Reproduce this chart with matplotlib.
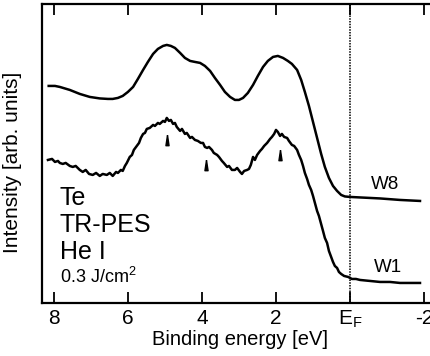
"""
Te TR-PES (He I) spectra, W8 and W1 — binding energy vs intensity.
Output: out.png (431 x 356 px)
"""

import matplotlib
matplotlib.use("Agg")
import matplotlib.pyplot as plt

# ── Fonts ──────────────────────────────────────────────────────────────────────
plt.rcParams["font.family"] = ["Liberation Sans", "DejaVu Sans"]
plt.rcParams["mathtext.fontset"] = "custom"
plt.rcParams["mathtext.rm"] = "Liberation Sans"
plt.rcParams["mathtext.it"] = "Liberation Sans"

# ── Data ──────────────────────────────────────────────────────────────────────
# W8 — smooth spectrum
w8_e = [8.14, 7.97, 7.84, 7.57, 7.30, 7.03, 6.76, 6.54, 6.41, 6.27,
        6.14, 6.00, 5.86, 5.73, 5.59, 5.46, 5.32, 5.19, 5.05, 4.95,
        4.84, 4.73, 4.59, 4.46, 4.32, 4.19, 4.05, 3.92, 3.78, 3.65,
        3.51, 3.38, 3.24, 3.11, 3.00, 2.89, 2.76, 2.62, 2.49, 2.35,
        2.22, 2.08, 1.95, 1.81, 1.68, 1.57, 1.43, 1.32, 1.22, 1.11,
        1.00, 0.89, 0.78, 0.68, 0.57, 0.46, 0.35, 0.24, 0.14, 0.00,
        -0.27, -0.81, -1.35, -1.89]
w8_i = [217, 217, 216, 213, 209, 206, 204.5, 204, 204, 205,
        207, 211, 216, 224, 233, 241, 249, 254, 257, 258,
        257, 255, 250, 245, 242, 241, 240, 237, 232, 225,
        218, 211, 206, 203, 203, 205, 210, 218, 227, 236,
        242, 246, 247, 245, 242, 239, 233, 223, 211, 197,
        181, 165, 149, 136, 125, 117, 112, 108, 106.5, 106,
        105.5, 104.5, 103, 102]

# W1 — noisy spectrum
w1_e = [8.16, 8.05, 7.97, 7.89, 7.84, 7.76, 7.68, 7.57, 7.49, 7.41,
        7.30, 7.22, 7.14, 7.05, 6.95, 6.86, 6.76, 6.68, 6.57, 6.49,
        6.41, 6.32, 6.27, 6.19, 6.14, 6.08, 6.03, 5.95, 5.89, 5.84,
        5.76, 5.70, 5.65, 5.59, 5.54, 5.49, 5.41, 5.32, 5.27, 5.19,
        5.14, 5.05, 5.00, 4.95, 4.89, 4.84, 4.78, 4.73, 4.68, 4.59,
        4.54, 4.46, 4.41, 4.32, 4.27, 4.19, 4.11, 4.03, 3.97, 3.92,
        3.86, 3.81, 3.73, 3.68, 3.59, 3.54, 3.46, 3.41, 3.32, 3.27,
        3.19, 3.11, 3.05, 2.97, 2.92, 2.86, 2.78, 2.73, 2.68, 2.62,
        2.57, 2.51, 2.43, 2.38, 2.32, 2.24, 2.16, 2.11, 2.05, 2.00,
        1.95, 1.89, 1.84, 1.78, 1.70, 1.65, 1.57, 1.51, 1.43, 1.38,
        1.32, 1.27, 1.22, 1.16, 1.11, 1.05, 1.00, 0.95, 0.89, 0.84,
        0.78, 0.73, 0.68, 0.62, 0.57, 0.51, 0.46, 0.41, 0.35, 0.30,
        0.24, 0.16, 0.05, -0.05, -0.16, -0.27, -0.54, -0.81, -1.08, -1.35,
        -1.62, -1.89]
w1_i = [143, 144, 141, 142, 140, 139, 140, 137, 136, 137,
        133, 131, 133, 129, 128, 130, 127, 129, 128, 130,
        127, 131, 130, 133, 132, 137, 140, 146, 148, 153,
        157, 160, 165, 169, 170, 174, 175, 178, 177, 180,
        179, 182, 181, 185, 182, 183, 179, 180, 176, 172,
        174, 169, 170, 165, 166, 163, 162, 160, 160, 156,
        155, 156, 153, 150, 148, 146, 142, 140, 136, 137,
        133, 133, 135, 131, 129, 132, 133, 134, 138, 146,
        143, 148, 152, 154, 157, 160, 164, 166, 169, 173,
        171, 167, 169, 166, 165, 162, 158, 157, 153, 148,
        143, 137, 130, 124, 118, 113, 107, 100, 92, 87,
        79, 72, 65, 60, 52, 46, 41, 37, 35, 31,
        29, 27, 26, 24, 24, 23, 22, 21, 21, 20,
        20, 20]

# peak markers under W1
peak_e = [4.95, 3.89, 1.89]
peak_i = [163, 138, 148]

x_ticks  = [8, 6, 4, 2, 0, -2]
x_labels = ["8", "6", "4", "2", r"E$_{\mathrm{F}}$", "-2"]

sample_lines = ["Te", "TR-PES", "He I"]

# ── Figure ────────────────────────────────────────────────────────────────────
fig = plt.figure(figsize=(4.31, 3.56), dpi=100, facecolor="white")
ax = fig.add_axes([0.0975, 0.149, 0.9165, 0.840])
ax.set_xlim(8.32, -2.35)
ax.set_ylim(0, 299)

ax.plot(w8_e, w8_i, color="black", lw=1.8, solid_joinstyle="round")
ax.plot(w1_e, w1_i, color="black", lw=1.8, solid_joinstyle="round")
ax.axvline(0, color="black", lw=1.1, ls=(0, (1, 0.8)))

tri = [(0, 1), (-0.3, -1), (0.3, -1), (0, 1)]
ax.plot(peak_e, peak_i, ls="none", marker=tri, ms=7.5, color="black")

# ── Labels ────────────────────────────────────────────────────────────────────
ax.text(-0.95, 118, "W8", fontsize=13.5, ha="center", va="center")
ax.text(-1.03, 35, "W1", fontsize=13.5, ha="center", va="center")

for k, s in enumerate(sample_lines):
    ax.text(7.84, 98 - k * 27, s, fontsize=18, ha="left", va="baseline")
ax.text(7.84, 20, r"0.3 J/cm$^2$", fontsize=13, ha="left", va="baseline")

# ── Axes styling ──────────────────────────────────────────────────────────────
ax.set_xticks(x_ticks)
ax.set_xticklabels(x_labels, fontsize=15)
ax.set_yticks([])
ax.tick_params(axis="x", direction="in", top=True, length=8, width=1.3, pad=4)
for side in ["left", "bottom", "top"]:
    ax.spines[side].set_linewidth(1.6)
ax.spines["right"].set_visible(False)

ax.set_xlabel("Binding energy [eV]", fontsize=14.5, labelpad=0)
ax.set_ylabel("Intensity [arb. units]", fontsize=15)
ax.yaxis.set_label_coords(-0.05, 0.47)

fig.savefig("out.png", dpi=100, facecolor="white")
